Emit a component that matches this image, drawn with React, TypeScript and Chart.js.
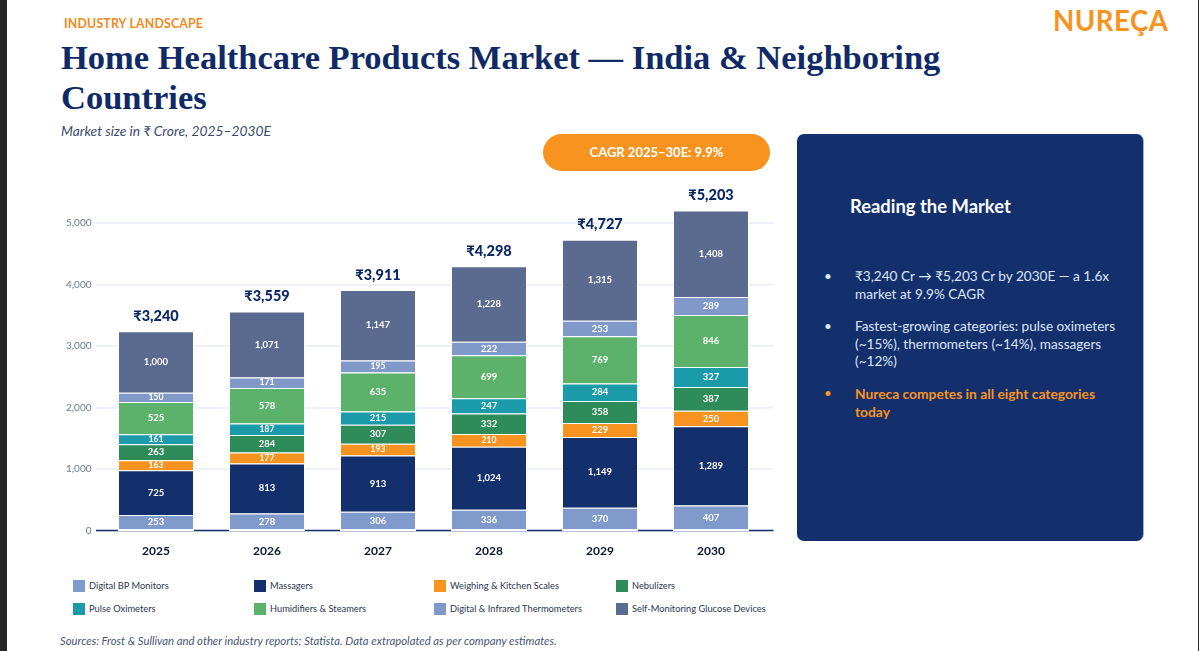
import React, { useEffect, useRef } from "react";
import { Chart, registerables } from "chart.js";

Chart.register(...registerables);

const years = ["2025", "2026", "2027", "2028", "2029", "2030"];
const totals = [3240, 3559, 3911, 4298, 4727, 5203];

const digitalBp = [253, 278, 306, 336, 370, 407];
const massagers = [725, 813, 913, 1024, 1149, 1289];
const scales = [163, 177, 193, 210, 229, 250];
const nebulizers = [263, 284, 307, 332, 358, 387];
const pulseOx = [161, 187, 215, 247, 284, 327];
const humidifiers = [525, 578, 635, 699, 769, 846];
const thermometers = [150, 171, 195, 222, 253, 289];
const glucose = [1000, 1071, 1147, 1228, 1315, 1408];

const seriesNames = [
  "Digital BP Monitors",
  "Massagers",
  "Weighing & Kitchen Scales",
  "Nebulizers",
  "Pulse Oximeters",
  "Humidifiers & Steamers",
  "Digital & Infrared Thermometers",
  "Self-Monitoring Glucose Devices",
];
const seriesValues = [digitalBp, massagers, scales, nebulizers, pulseOx, humidifiers, thermometers, glucose];
const seriesColors = ["#7f9acb", "#13306d", "#f7931e", "#2e8b5a", "#1b9aaa", "#5cb26a", "#8099c8", "#5b6b8f"];

const NAVY = "#13306d";
const ORANGE = "#f7931e";
const GRID = "#eef1f7";
const FONT = "Lato, 'Noto Sans', sans-serif";

// baseline under the bars, and gridlines run a little past the last category
const baseline = {
  id: "baseline",
  beforeDatasetsDraw(chart: any) {
    const { ctx, chartArea, scales } = chart;
    ctx.save();
    ctx.strokeStyle = GRID;
    ctx.lineWidth = 2;
    scales.y.ticks.forEach((t: any) => {
      const y = scales.y.getPixelForValue(t.value);
      ctx.beginPath();
      ctx.moveTo(chartArea.right, y);
      ctx.lineTo(chartArea.right + 7, y);
      ctx.stroke();
    });
    const y0 = scales.y.getPixelForValue(0);
    ctx.strokeStyle = NAVY;
    ctx.lineWidth = 1.5;
    ctx.beginPath();
    ctx.moveTo(chartArea.left - 4.5, y0);
    ctx.lineTo(chartArea.right + 7, y0);
    ctx.stroke();
    ctx.restore();
  },
};

// white segment values and the bold totals above each stack
const stackLabels = {
  id: "stackLabels",
  afterDatasetsDraw(chart: any) {
    const { ctx } = chart;
    ctx.save();
    // bars break the baseline
    ctx.fillStyle = "#fff";
    chart.getDatasetMeta(0).data.forEach((bar: any) => {
      ctx.fillRect(bar.x - bar.width / 2, bar.base - 0.5, bar.width, 2);
    });
    ctx.textAlign = "center";
    ctx.textBaseline = "middle";
    chart.data.datasets.forEach((ds: any, i: number) => {
      chart.getDatasetMeta(i).data.forEach((bar: any, j: number) => {
        const h = Math.abs(bar.base - bar.y);
        ctx.fillStyle = "#fff";
        ctx.font = `bold ${h < 13 ? 8.5 : 9.5}px ${FONT}`;
        ctx.fillText(ds.data[j].toLocaleString("en-US"), bar.x, (bar.y + bar.base) / 2);
      });
    });
    const top = chart.getDatasetMeta(chart.data.datasets.length - 1).data;
    ctx.fillStyle = "#0b2766";
    ctx.font = `900 14.5px ${FONT}`;
    top.forEach((bar: any, j: number) => {
      ctx.fillText("₹" + totals[j].toLocaleString("en-US"), bar.x, bar.y - 15);
    });
    ctx.restore();
  },
};

const abs = (left: number, top: number, extra: React.CSSProperties = {}): React.CSSProperties => ({
  position: "absolute",
  left,
  top,
  whiteSpace: "nowrap",
  ...extra,
});

export default function App() {
  const canvasRef = useRef<HTMLCanvasElement>(null);

  useEffect(() => {
    document.body.style.margin = "0";
    document.body.style.background = "#fff";
    if (!canvasRef.current) return;
    const chart = new Chart(canvasRef.current, {
      type: "bar",
      data: {
        labels: years,
        datasets: seriesNames.map((name, i) => ({
          label: name,
          data: seriesValues[i],
          backgroundColor: seriesColors[i],
          borderColor: "#fff",
          borderWidth: 1,
          barPercentage: 0.685,
          categoryPercentage: 1,
        })),
      },
      options: {
        animation: false,
        responsive: false,
        maintainAspectRatio: false,
        layout: { padding: { top: 11.5, right: 13.5, left: 0, bottom: 0 } },
        plugins: { legend: { display: false }, title: { display: false }, tooltip: { enabled: false } },
        scales: {
          x: {
            stacked: true,
            grid: { display: false, drawTicks: false },
            border: { display: false },
            ticks: { color: "#0b1530", padding: 13, font: { family: FONT, size: 12, weight: "bold" } },
            afterFit: (axis: any) => {
              axis.height = 34.5;
            },
          },
          y: {
            stacked: true,
            min: 0,
            max: 6000,
            grid: { color: GRID, lineWidth: 2, tickLength: 5 },
            border: { display: false },
            ticks: {
              stepSize: 1000,
              color: "#6b7896",
              padding: 4,
              font: { family: FONT, size: 10 },
              callback: (v: any) => Number(v).toLocaleString("en-US"),
            },
            afterBuildTicks: (axis: any) => {
              axis.ticks = axis.ticks.filter((t: any) => t.value <= 5000);
            },
            afterFit: (axis: any) => {
              axis.width = 40.5;
            },
          },
        },
      },
      plugins: [baseline, stackLabels],
    } as any);
    return () => chart.destroy();
  }, []);

  return (
    <div style={{ position: "relative", width: 1199, height: 651, overflow: "hidden", fontFamily: FONT, background: "#fff" }}>
      <div style={abs(0, 0, { width: 7, height: 651, background: "#262626" })} />
      <div style={abs(1198, 0, { width: 1, height: 651, background: "#262626" })} />

      <div style={abs(64, 16, { fontSize: 12.3, fontWeight: 700, color: "#f08a1c", letterSpacing: 0.2 })}>INDUSTRY LANDSCAPE</div>
      <div style={abs(1053, 4, { fontSize: 27.6, fontWeight: 700, color: ORANGE, letterSpacing: 0.5 })}>NUREÇA</div>

      <div style={abs(61, 38, { fontFamily: "'Liberation Serif', serif", fontSize: 34.5, fontWeight: 700, color: "#0f2a66", lineHeight: "39.5px" })}>
        Home Healthcare Products Market — India &amp; Neighboring
        <br />
        Countries
      </div>
      <div style={abs(61, 122, { fontSize: 13.8, fontStyle: "italic", color: "#3c4a6e" })}>Market size in ₹ Crore, 2025–2030E</div>

      <div
        style={abs(543, 134, {
          width: 227,
          height: 37,
          borderRadius: 18.5,
          background: ORANGE,
          color: "#fff",
          fontSize: 13,
          fontWeight: 700,
          textAlign: "center",
          lineHeight: "37px",
        })}
      >
        CAGR 2025–30E: 9.9%
      </div>

      <canvas ref={canvasRef} width={720} height={415} style={abs(60, 150, { width: 720, height: 415 })} />

      {seriesNames.map((name, i) => {
        const left = [73, 254, 434, 616][i % 4];
        const top = i < 4 ? 580 : 603;
        return (
          <React.Fragment key={name}>
            <div style={abs(left, top, { width: 12, height: 12, background: seriesColors[i] })} />
            <div style={abs(left + 16, top - 1, { fontSize: 9.3, lineHeight: "14px", color: "#2b3650" })}>{name}</div>
          </React.Fragment>
        );
      })}

      <div style={abs(60, 634, { fontSize: 11.3, fontStyle: "italic", color: "#4a5675" })}>
        Sources: Frost &amp; Sullivan and other industry reports; Statista. Data extrapolated as per company estimates.
      </div>

      <div style={abs(797, 134, { width: 347, height: 407, borderRadius: 7, background: NAVY, borderRight: "1px solid #8fb4ea", boxSizing: "border-box" })} />
      <div style={abs(850, 195, { fontSize: 18.4, fontWeight: 700, color: "#fff" })}>Reading the Market</div>
      {[
        { y: 268, color: "#dce6f6", bold: false, lines: ["₹3,240 Cr → ₹5,203 Cr by 2030E — a 1.6x", "market at 9.9% CAGR"] },
        { y: 318, color: "#dce6f6", bold: false, lines: ["Fastest-growing categories: pulse oximeters", "(~15%), thermometers (~14%), massagers", "(~12%)"] },
        { y: 385, color: ORANGE, bold: true, lines: ["Nureca competes in all eight categories", "today"] },
      ].map((b) => (
        <React.Fragment key={b.y}>
          <div style={abs(824, b.y, { fontSize: 13.5, lineHeight: "17.7px", color: b.color })}>•</div>
          <div style={abs(855, b.y, { fontSize: b.bold ? 13.8 : 13.6, lineHeight: "17.7px", color: b.color, fontWeight: b.bold ? 700 : 400 })}>
            {b.lines.map((l) => (
              <div key={l}>{l}</div>
            ))}
          </div>
        </React.Fragment>
      ))}
    </div>
  );
}
